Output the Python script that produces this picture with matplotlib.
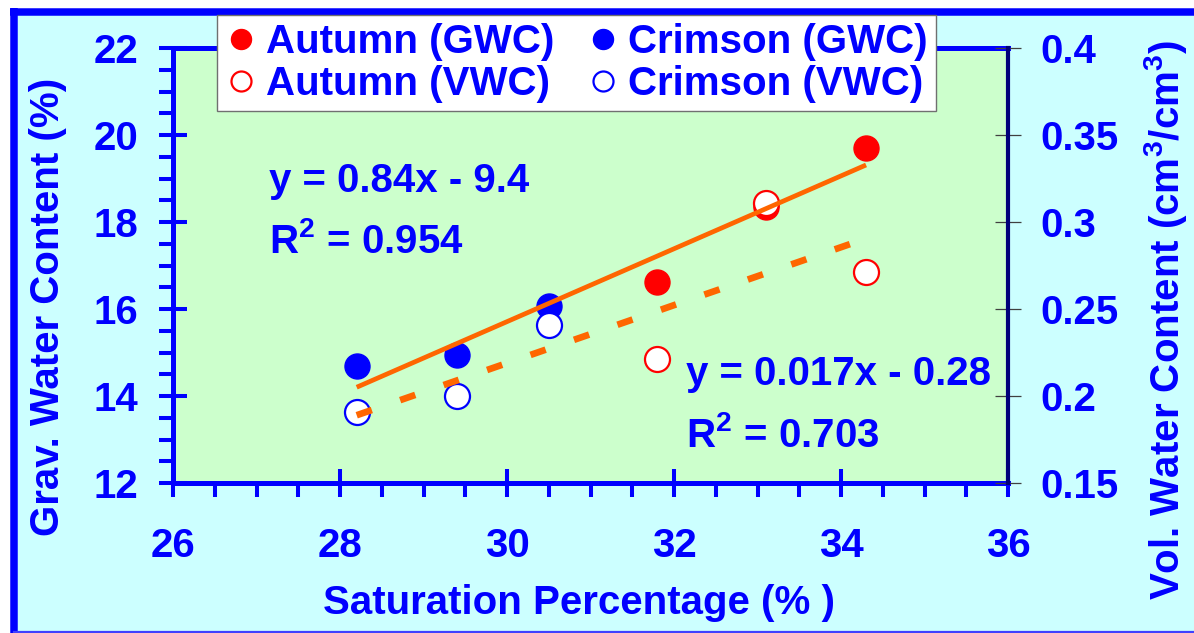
import numpy as np
import matplotlib
matplotlib.use("Agg")
import matplotlib.pyplot as plt
from matplotlib.patches import Rectangle
from matplotlib.lines import Line2D
from matplotlib.ticker import MultipleLocator, FixedLocator, FixedFormatter

# ---- data -------------------------------------------------------------
autumn_sat = [31.8, 33.1, 34.3]
autumn_gwc = [16.62, 18.35, 19.70]
autumn_vwc = [0.221, 0.311, 0.271]

crimson_sat = [28.2, 29.4, 30.5]
crimson_gwc = [14.68, 14.95, 16.07]
crimson_vwc = [0.191, 0.200, 0.241]

gwc_eq = ["y = 0.84x - 9.4", "R$^{2}$ = 0.954"]
vwc_eq = ["y = 0.017x - 0.28", "R$^{2}$ = 0.703"]

x_ticks = [26, 28, 30, 32, 34, 36]
gwc_ticks = [12, 14, 16, 18, 20, 22]
vwc_ticks = [0.15, 0.2, 0.25, 0.3, 0.35, 0.4]
vwc_tick_labels = ["0.15", "0.2", "0.25", "0.3", "0.35", "0.4"]

# ---- style ------------------------------------------------------------
BLUE = "#0000FF"
RED = "#FF0000"
ORANGE = "#FF6600"
FONT = "Liberation Sans"
FS = 29

plt.rcParams["font.family"] = [FONT, "DejaVu Sans"]
plt.rcParams["font.weight"] = "bold"
plt.rcParams["mathtext.fontset"] = "custom"
plt.rcParams["mathtext.rm"] = f"{FONT}:bold"
plt.rcParams["mathtext.bf"] = f"{FONT}:bold"
plt.rcParams["mathtext.default"] = "bf"

W, H = 1194, 633
fig = plt.figure(figsize=(W / 100, H / 100), dpi=100, facecolor="white")

# page background and its blue frame
fig.patches.append(Rectangle((13.5 / W, 0), 1, 1 - 12 / H,
                             transform=fig.transFigure, facecolor="#CCFFFF",
                             edgecolor="none", zorder=-10))
frame = dict(transform=fig.transFigure, color=BLUE, zorder=-9,
             solid_capstyle="butt")
fig.lines.append(Line2D([10 / W, 1], [1 - 11.5 / H] * 2, lw=5.4, **frame))
fig.lines.append(Line2D([13.5 / W] * 2, [0, 1 - 8 / H], lw=5.4, **frame))
fig.lines.append(Line2D([13.5 / W, 1], [1.2 / H] * 2, lw=1.6,
                        transform=fig.transFigure, color="#4040FF", zorder=-9))

ax = fig.add_axes([173 / W, 1 - 483 / H, (1008 - 173) / W, (483 - 48) / H])
ax.set_facecolor("#CCFFCC")
ax2 = ax.twinx()
ax2.patch.set_visible(False)

ax.set_xlim(26, 36)
ax.set_ylim(12, 22)
ax2.set_ylim(0.15, 0.40)

# markers: gravimetric (filled) on the left scale, volumetric (open) on the right
ms = 18
ax.plot(crimson_sat, crimson_gwc, "o", ms=ms, color=BLUE, mec=BLUE,
        label="Crimson (GWC)")
ax.plot(autumn_sat, autumn_gwc, "o", ms=ms, color=RED, mec=RED,
        label="Autumn (GWC)")
ax2.plot(crimson_sat, crimson_vwc, "o", ms=ms, mfc="white", mec=BLUE, mew=1.6,
         label="Crimson (VWC)")
ax2.plot(autumn_sat, autumn_vwc, "o", ms=ms, mfc="white", mec=RED, mew=1.6,
         label="Autumn (VWC)")

# linear trend lines through both varieties
sat_all = np.array(crimson_sat + autumn_sat)
gwc_all = np.array(crimson_gwc + autumn_gwc)
vwc_all = np.array(crimson_vwc + autumn_vwc)
xr = np.array([sat_all.min(), sat_all.max()])
g_fit = np.polyval(np.polyfit(sat_all, gwc_all, 1), xr)
v_fit = np.polyval(np.polyfit(sat_all, vwc_all, 1), xr)
ax2.plot(xr, g_fit, color=ORANGE, lw=3.4, solid_capstyle="butt",
         transform=ax.transData)
ax2.plot(xr, v_fit, color=ORANGE, lw=4.8, dashes=(2.4, 4.5),
         dash_capstyle="butt")

# equations
txt = dict(color=BLUE, fontsize=FS, fontweight="bold", ha="left", va="baseline")
ax.text(27.15, 18.69, gwc_eq[0], **txt)
ax.text(27.15, 17.29, gwc_eq[1], **txt)
ax.text(32.14, 14.25, vwc_eq[0], **txt)
ax.text(32.14, 12.83, vwc_eq[1], **txt)

# axes, spines and ticks
for s in ("left", "bottom", "top"):
    ax.spines[s].set_color(BLUE)
    ax.spines[s].set_linewidth(3.6)
    ax2.spines[s].set_visible(False)
ax.spines["right"].set_visible(False)
ax2.spines["right"].set_color("#00007A")
ax2.spines["right"].set_linewidth(3.0)

ax.xaxis.set_major_locator(FixedLocator(x_ticks))
ax.xaxis.set_minor_locator(MultipleLocator(0.5))
ax.yaxis.set_major_locator(FixedLocator(gwc_ticks))
ax.yaxis.set_minor_locator(MultipleLocator(0.5))
ax2.yaxis.set_major_locator(FixedLocator(vwc_ticks))
ax2.yaxis.set_major_formatter(FixedFormatter(vwc_tick_labels))

ax.tick_params(which="major", direction="inout", length=20, width=2.9,
               color=BLUE, labelcolor=BLUE, labelsize=FS)
ax.tick_params(which="minor", direction="out", length=10, width=2.9, color=BLUE)
ax.tick_params(axis="x", which="major", pad=22)
ax.tick_params(axis="y", which="major", pad=15)
ax.tick_params(axis="y", which="both", right=False)
ax.tick_params(axis="x", which="both", top=False)
ax2.tick_params(axis="y", which="major", direction="inout", length=19,
                width=0.9, color="#404040", labelcolor=BLUE, labelsize=FS,
                pad=14)
for lab in ax.get_xticklabels() + ax.get_yticklabels() + ax2.get_yticklabels():
    lab.set_fontweight("bold")

lab_kw = dict(color=BLUE, fontsize=FS, fontweight="bold")
ax.set_xlabel("Saturation Percentage (% )", **lab_kw)
ax.xaxis.label.set_va("baseline")
ax.xaxis.set_label_coords((579 - 173) / 835, (483 - 614) / 435)
ax.set_ylabel("Grav. Water Content (%)", **lab_kw)
ax.yaxis.label.set_va("center")
ax.yaxis.set_label_coords((48 - 173) / 835, (483 - 307) / 435)
ax2.set_ylabel("Vol. Water Content (cm$^{3}$/cm$^{3}$)", **lab_kw)
ax2.yaxis.label.set_va("center")
ax2.yaxis.label.set_ha("center")
ax2.yaxis.set_label_coords((1165 - 173) / 835, (483 - 320) / 435)

# legend in two columns
h1, l1 = ax.get_legend_handles_labels()
h2, l2 = ax2.get_legend_handles_labels()
hd = dict(zip(l1 + l2, h1 + h2))
order = ["Autumn (GWC)", "Autumn (VWC)", "Crimson (GWC)", "Crimson (VWC)"]
leg = fig.legend([hd[k] for k in order], order, ncol=2, loc="upper left",
                 bbox_to_anchor=(217 / W, 1 - 15 / H), borderaxespad=0,
                 frameon=True, fancybox=False, edgecolor="#707070",
                 facecolor="white", framealpha=1, borderpad=0.2,
                 labelspacing=0.1, handlelength=0.8, handletextpad=0.22,
                 columnspacing=0.8, markerscale=0.8,
                 prop=dict(family=FONT, weight="bold", size=FS),
                 labelcolor=BLUE)
leg.get_frame().set_linewidth(1.0)

fig.savefig("out.png", dpi=100, facecolor="white")
